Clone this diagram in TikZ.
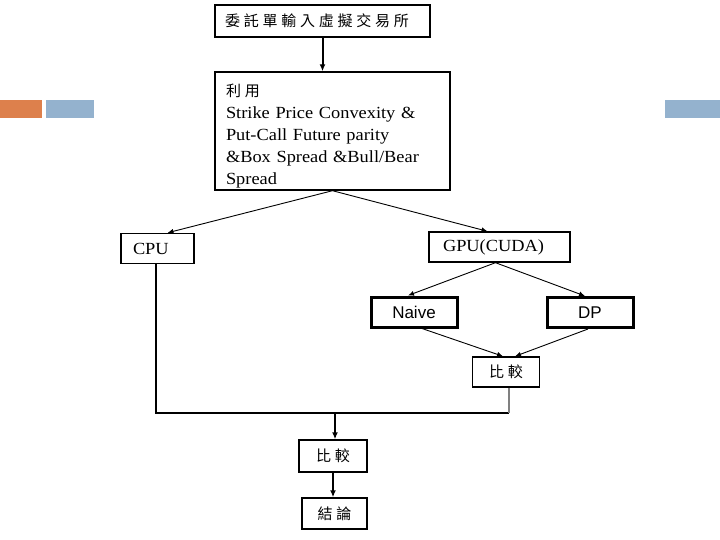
\documentclass[tikz,border=0pt]{standalone}
\usepackage{fontspec}
\setmainfont[FakeStretch=1.08]{Liberation Serif}
\newfontfamily\arialf{Liberation Sans}
\newfontfamily\cjkf[LetterSpace=25]{Noto Sans CJK TC}
\usetikzlibrary{arrows.meta}
\tikzset{
  box/.style={draw, line width=1.4pt, rectangle, inner ysep=0pt},
  thickbox/.style={draw, line width=3pt, rectangle, inner sep=0pt, font=\arialf\fontsize{17}{20}\selectfont},
  cjk/.style={font=\cjkf\fontsize{15}{18}\selectfont},
  arr/.style={line width=0.9pt, -{Latex[length=6pt,width=5pt]}},
  varr/.style={line width=2pt, -{Latex[length=7pt,width=6pt]}},
  deco/.style={draw=none, rectangle, inner sep=0pt},
}
\begin{document}
\begin{tikzpicture}[x=1pt,y=-1pt]
\useasboundingbox (0,0) rectangle (720,540);
% decorations
\node[deco, fill={rgb,255:red,221;green,128;blue,76}, minimum width=42, minimum height=18] (o1) at (21,109) {};
\node[deco, fill={rgb,255:red,148;green,178;blue,206}, minimum width=48, minimum height=18] (b1) at (70,109) {};
\node[deco, fill={rgb,255:red,148;green,178;blue,206}, minimum width=55, minimum height=18] (b2) at (692.5,109) {};
% boxes
\node[box, cjk, minimum width=215, minimum height=32, text width=195, inner xsep=10pt, align=left] (top) at (322.5,21)
  {委託單輸入虛擬交易所};
\node[box, minimum width=235, minimum height=118, text width=213, inner xsep=11pt, align=left,
      font=\fontsize{17}{22}\selectfont] (big) at (332.5,131)
  {\rule{0pt}{20pt}{\cjkf\fontsize{15}{22}\selectfont 利用}\\
   Strike Price Convexity \&\\
   Put-Call Future parity\\
   \&Box Spread \&Bull/Bear\\
   \smash{Spread}};
\node[box, minimum width=73, minimum height=30, text width=49, inner xsep=12pt, align=left,
      font=\fontsize{17}{20}\selectfont] (cpu) at (157.5,248.5) {CPU};
\node[box, minimum width=141, minimum height=30, text width=113, inner xsep=14pt, align=left,
      font=\fontsize{17}{20}\selectfont] (gpu) at (499.5,247) {GPU(CUDA)};
\node[thickbox, minimum width=86, minimum height=30] (naive) at (414,312) {Naive};
\node[thickbox, minimum width=86, minimum height=30] (dp) at (590,312.5) {DP};
\node[box, cjk, minimum width=67, minimum height=30, inner xsep=0pt] (cmp1) at (506,372) {比較};
\node[box, cjk, minimum width=68, minimum height=32, inner xsep=0pt] (cmp2) at (333,456) {比較};
\node[box, cjk, minimum width=65, minimum height=31, inner xsep=0pt] (concl) at (334.5,513.5) {結論};
% connectors
\coordinate (j1) at (156,413);
\coordinate (j2) at (509,413);
\coordinate (j3) at (335,413);
\draw[varr] (top.south) -- (big.north -| top.south);
\draw[arr] (big.south) -- ([xshift=10]cpu.north);
\draw[arr] (big.south) -- ([xshift=-12]gpu.north);
\draw[arr] ([xshift=-4]gpu.south) -- ([xshift=-6]naive.north);
\draw[arr] ([xshift=-4]gpu.south) -- ([xshift=-5]dp.north);
\draw[arr] ([xshift=8]naive.south) -- ([xshift=-3]cmp1.north);
\draw[arr] ([xshift=-2]dp.south) -- ([xshift=9]cmp1.north);
\draw[line width=2pt] (cpu.south -| j1) -- (j1) -- (j2);
\draw[line width=2pt, gray] (cmp1.south -| j2) -- (j2);
\draw[varr] (j3) -- (cmp2.north -| j3);
\draw[varr] (cmp2.south) -- (concl.north -| cmp2.south);
\end{tikzpicture}
\end{document}
